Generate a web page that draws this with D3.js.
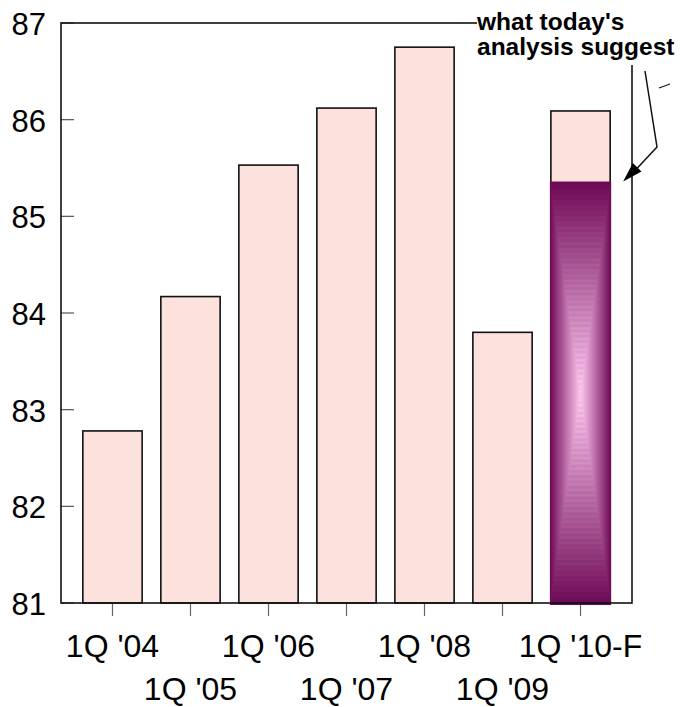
<!DOCTYPE html>
<html>
<head>
<meta charset="utf-8">
<script src="https://cdn.jsdelivr.net/npm/d3@7"></script>
<style>
  body { margin: 0; background: #fff; }
  svg { display: block; font-family: "Liberation Sans", Arial, sans-serif; }
</style>
</head>
<body>
<div id="chart"></div>
<script>
// data
const categories = ["1Q '04", "1Q '05", "1Q '06", "1Q '07", "1Q '08", "1Q '09", "1Q '10-F"];
const values = [82.78, 84.17, 85.53, 86.12, 86.75, 83.8, 86.09];
const forecastValue = 85.36; // shaded part of the last bar
const yTicks = [81, 82, 83, 84, 85, 86, 87];
const annotationLines = ["what today's", "analysis suggest"];

const width = 681, height = 707;
const plotLeft = 61, plotRight = 632, plotTop = 23, plotBottom = 603;

const svg = d3.select("#chart").append("svg")
  .attr("width", width)
  .attr("height", height);

const x = d3.scaleBand()
  .domain(categories)
  .range([plotLeft, plotRight])
  .paddingInner(0.24)
  .paddingOuter(0.28);

const y = d3.scaleLinear()
  .domain([81, 87])
  .range([plotBottom, plotTop]);

// y tick marks (inside) + labels
svg.append("g").selectAll("line")
  .data(yTicks)
  .enter().append("line")
    .attr("x1", plotLeft).attr("x2", plotLeft + 13)
    .attr("y1", d => y(d)).attr("y2", d => y(d))
    .attr("stroke", "#555").attr("stroke-width", 1.2);

svg.append("g").selectAll("text")
  .data(yTicks)
  .enter().append("text")
    .attr("x", 46)
    .attr("y", d => y(d) + 12)
    .attr("text-anchor", "end")
    .style("font-size", "31px")
    .text(d => d);

// x tick marks (outside) + staggered labels
svg.append("g").selectAll("line")
  .data(categories)
  .enter().append("line")
    .attr("x1", d => x(d) + x.bandwidth() / 2)
    .attr("x2", d => x(d) + x.bandwidth() / 2)
    .attr("y1", plotBottom).attr("y2", plotBottom + 13)
    .attr("stroke", "#666").attr("stroke-width", 1.2);

svg.append("g").selectAll("text")
  .data(categories)
  .enter().append("text")
    .attr("x", d => x(d) + x.bandwidth() / 2)
    .attr("y", (d, i) => i % 2 === 0 ? 657 : 700)
    .attr("text-anchor", "middle")
    .style("font-size", "32px")
    .text(d => d);

// bars
svg.append("g").selectAll("rect")
  .data(values)
  .enter().append("rect")
    .attr("x", (d, i) => x(categories[i]))
    .attr("y", d => y(d))
    .attr("width", x.bandwidth())
    .attr("height", d => y(81) - y(d))
    .attr("fill", "#fde1dc")
    .attr("stroke", "#111")
    .attr("stroke-width", 1.6);

// forecast part: rectangular "path" gradient faked with nested rects
const last = categories[categories.length - 1];
const gx0 = x(last) - 1, gx1 = x(last) + x.bandwidth() + 1;
const gy0 = y(forecastValue), gy1 = y(81) + 2;
const fx = (gx0 + gx1) / 2, fy = (gy0 + gy1) / 2;
const n = 80;
const steps = d3.range(0, n);
const shade = d3.interpolateRgb("#6a0852", "#f8c2ea");

svg.append("g").selectAll("rect")
  .data(steps)
  .enter().append("rect")
    .attr("x", s => gx0 + (fx - gx0) * s / n)
    .attr("y", s => gy0 + (fy - gy0) * s / n)
    .attr("width", s => (gx1 - gx0) * (1 - s / n))
    .attr("height", s => (gy1 - gy0) * (1 - s / n))
    .attr("fill", s => {
      const c = d3.rgb(shade(Math.pow(s / n, 0.95)));
      return s % 2 === 1 ? c.brighter(0.15) : c;
    });

// frame
svg.append("rect")
  .attr("x", plotLeft).attr("y", plotTop)
  .attr("width", plotRight - plotLeft).attr("height", plotBottom - plotTop)
  .attr("fill", "none")
  .attr("stroke", "#111")
  .attr("stroke-width", 1.6);

// annotation box covering top-right corner of the frame
svg.append("rect")
  .attr("x", 477).attr("y", 0)
  .attr("width", width - 477).attr("height", 65)
  .attr("fill", "#fff");

svg.append("g").selectAll("text")
  .data(annotationLines)
  .enter().append("text")
    .attr("x", 477)
    .attr("y", (d, i) => 30 + i * 25)
    .style("font-size", "24.5px")
    .style("font-weight", "bold")
    .text(d => d);

// pointer line to the forecast bar
const tip = [x(last) + x.bandwidth() + 13, y(forecastValue)];
svg.append("path")
  .attr("d", d3.line()([[645, 71], [657, 147], [tip[0] + 10, tip[1] - 9]]))
  .attr("fill", "none")
  .attr("stroke", "#111")
  .attr("stroke-width", 1.5);

const ang = Math.atan2(tip[1] - 147, tip[0] - 657);
const hl = 20, hw = 6;
const hx = tip[0] - hl * Math.cos(ang), hy = tip[1] - hl * Math.sin(ang);
svg.append("path")
  .attr("d", d3.line()([
    tip,
    [hx + hw * Math.sin(ang), hy - hw * Math.cos(ang)],
    [hx - hw * Math.sin(ang), hy + hw * Math.cos(ang)]
  ]) + "Z")
  .attr("fill", "#000");

svg.append("line")
  .attr("x1", 659).attr("y1", 88)
  .attr("x2", 670).attr("y2", 84)
  .attr("stroke", "#111").attr("stroke-width", 1.2);
</script>
</body>
</html>
